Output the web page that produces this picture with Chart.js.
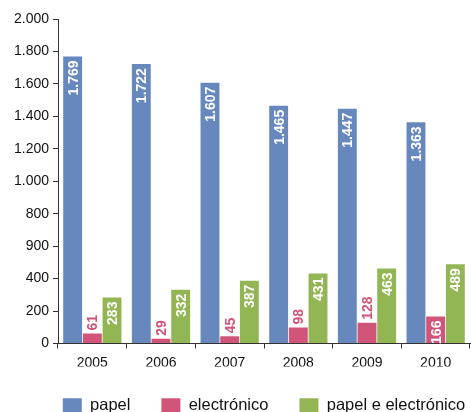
<!DOCTYPE html>
<html>
<head>
<meta charset="utf-8">
<script src="https://cdn.jsdelivr.net/npm/chart.js@4"></script>
<style>
  body { margin: 0; background: #fff; }
  #wrap { width: 471px; height: 412px; position: relative; }
</style>
</head>
<body>
<div id="wrap"><canvas id="chart"></canvas></div>
<script>
const years = ["2005", "2006", "2007", "2008", "2009", "2010"];
const papel = [1769, 1722, 1607, 1465, 1447, 1363];
const electronico = [61, 29, 45, 98, 128, 166];
const papelElectronico = [283, 332, 387, 431, 463, 489];
const yTickLabels = ["0", "200", "400", "900", "800", "1.000", "1.200", "1.400", "1.600", "1.800", "2.000"];

const BLUE = "#6788bd";
const PINK = "#d15479";
const GREEN = "#93b655";
const FONT = "'Liberation Sans', Arial, sans-serif";

function fmt(v) {
  return String(v).replace(/\B(?=(\d{3})+(?!\d))/g, ".");
}

// rotated value labels: inside the bar when it fits, above it otherwise
const barLabels = {
  id: "barLabels",
  afterDatasetsDraw(chart) {
    const ctx = chart.ctx;
    ctx.save();
    ctx.font = "bold 14px " + FONT;
    ctx.textBaseline = "middle";
    chart.data.datasets.forEach((ds, di) => {
      const meta = chart.getDatasetMeta(di);
      meta.data.forEach((bar, i) => {
        const txt = fmt(ds.data[i]);
        const w = ctx.measureText(txt).width;
        const h = bar.base - bar.y;
        ctx.save();
        ctx.translate(bar.x + 1, bar.y);
        ctx.rotate(-Math.PI / 2);
        if (h >= w + 2) {
          ctx.fillStyle = "#fff";
          ctx.textAlign = "right";
          ctx.fillText(txt, -4, 0);
        } else {
          ctx.fillStyle = ds.backgroundColor;
          ctx.textAlign = "left";
          ctx.fillText(txt, 3, 0);
        }
        ctx.restore();
      });
    });
    ctx.restore();
  }
};

// keep the legend row centred under the plot area rather than the canvas
const legendUnderPlot = {
  id: "legendUnderPlot",
  afterLayout(chart) {
    const lg = chart.legend, ca = chart.chartArea;
    if (!lg || !ca) return;
    const shift = (ca.left + ca.right) / 2 - (lg.left + lg.right) / 2;
    lg.left += shift;
    lg.right += shift;
  }
};

new Chart(document.getElementById("chart"), {
  type: "bar",
  data: {
    labels: years,
    datasets: [
      { label: "papel", data: papel, backgroundColor: BLUE },
      { label: "electrónico", data: electronico, backgroundColor: PINK },
      { label: "papel e electrónico", data: papelElectronico, backgroundColor: GREEN }
    ]
  },
  options: {
    responsive: true,
    maintainAspectRatio: false,
    animation: false,
    categoryPercentage: 0.86,
    barPercentage: 0.96,
    layout: { padding: { top: 19, right: 1, left: 0, bottom: -12 } },
    plugins: {
      tooltip: { enabled: false },
      legend: {
        position: "bottom",
        labels: {
          color: "#111",
          font: { family: FONT, size: 16.5 },
          boxWidth: 19,
          boxHeight: 15,
          padding: 31
        }
      }
    },
    scales: {
      x: {
        afterFit: s => { s.height = 23; },
        grid: { display: true, drawOnChartArea: false, tickLength: 5, color: "#333" },
        border: { display: true, color: "#333" },
        ticks: {
          color: "#111",
          padding: 6,
          font: { family: FONT, size: 14 }
        }
      },
      y: {
        min: 0,
        max: 2000,
        afterFit: s => { s.width = 58; },
        grid: { display: true, drawOnChartArea: false, tickLength: 5, color: "#333" },
        border: { display: true, color: "#333" },
        ticks: {
          stepSize: 200,
          color: "#111",
          padding: 4,
          font: { family: FONT, size: 14 },
          callback: (v, i) => yTickLabels[i]
        }
      }
    }
  },
  plugins: [barLabels, legendUnderPlot]
});
</script>
</body>
</html>
